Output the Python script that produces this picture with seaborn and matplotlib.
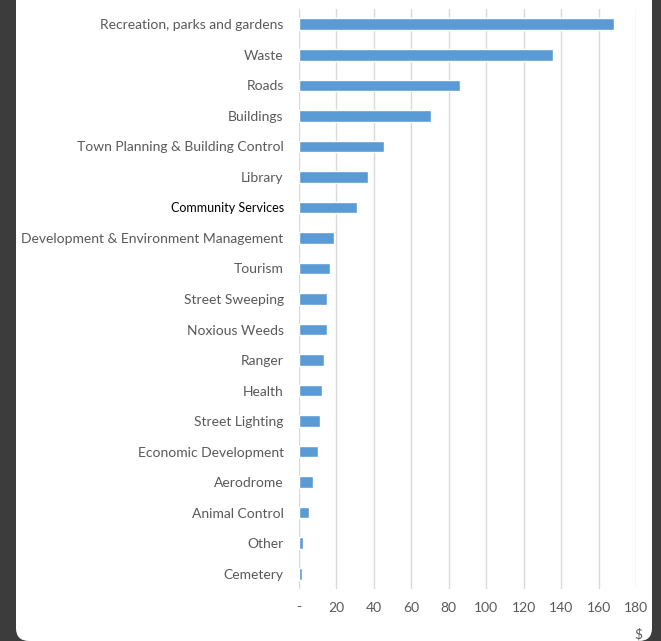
import matplotlib
matplotlib.use("Agg")
import matplotlib.pyplot as plt
import seaborn as sns
import pandas as pd
from matplotlib.patches import FancyBboxPatch

categories = ["Recreation, parks and gardens", "Waste", "Roads", "Buildings",
              "Town Planning & Building Control", "Library", "Community Services",
              "Development & Environment Management", "Tourism", "Street Sweeping",
              "Noxious Weeds", "Ranger", "Health", "Street Lighting",
              "Economic Development", "Aerodrome", "Animal Control", "Other", "Cemetery"]
values = [168.3, 135.7, 86.0, 70.5, 45.4, 36.9, 31.0, 18.7, 16.6, 15.0,
          15.0, 13.4, 12.3, 11.2, 10.1, 7.5, 5.3, 2.1, 1.7]
tick_values = [0, 20, 40, 60, 80, 100, 120, 140, 160, 180]
tick_labels = ["-", "20", "40", "60", "80", "100", "120", "140", "160", "180"]

df = pd.DataFrame({"category": categories, "value": values})

sns.set_theme(style="white")
plt.rcParams['font.family'] = ['Lato', 'DejaVu Sans']

fig = plt.figure(figsize=(6.61, 6.41), dpi=100)
fig.patch.set_facecolor("#3c3c3c")
panel = FancyBboxPatch((16 / 661, 0.0), (652 - 16) / 661, 1.2,
                       boxstyle="round,pad=0,rounding_size=0.02",
                       transform=fig.transFigure, facecolor="white",
                       edgecolor="none", zorder=-5)
fig.patches.append(panel)

ax = fig.add_axes([299 / 661, 1 - 589 / 641, (636 - 299) / 661, (589 - 9) / 641])
ax.set_facecolor("none")
sns.barplot(data=df, y="category", x="value", color="#5b9bd5", width=0.38,
            saturation=1, ax=ax, zorder=3)
ax.set_xlim(0, 180)
ax.set_xticks(tick_values)
ax.set_xticklabels(tick_labels)
ax.grid(axis="x", color="#d9d9d9", linewidth=1, zorder=0)
for s in ["top", "right", "bottom", "left"]:
    ax.spines[s].set_visible(False)
ax.tick_params(axis="both", length=0, labelcolor="#595959", labelsize=10)
ax.tick_params(axis="y", pad=11)
ax.tick_params(axis="x", pad=9)
for lbl in ax.get_yticklabels():
    if lbl.get_text() == "Community Services":
        lbl.set_color("black")
        lbl.set_fontsize(9)
ax.set_ylabel("")
ax.set_xlabel("$", color="#595959", fontsize=10, ha="right")
ax.xaxis.set_label_coords(1.02, -0.068)

fig.savefig("out.png", dpi=100, facecolor=fig.get_facecolor())
